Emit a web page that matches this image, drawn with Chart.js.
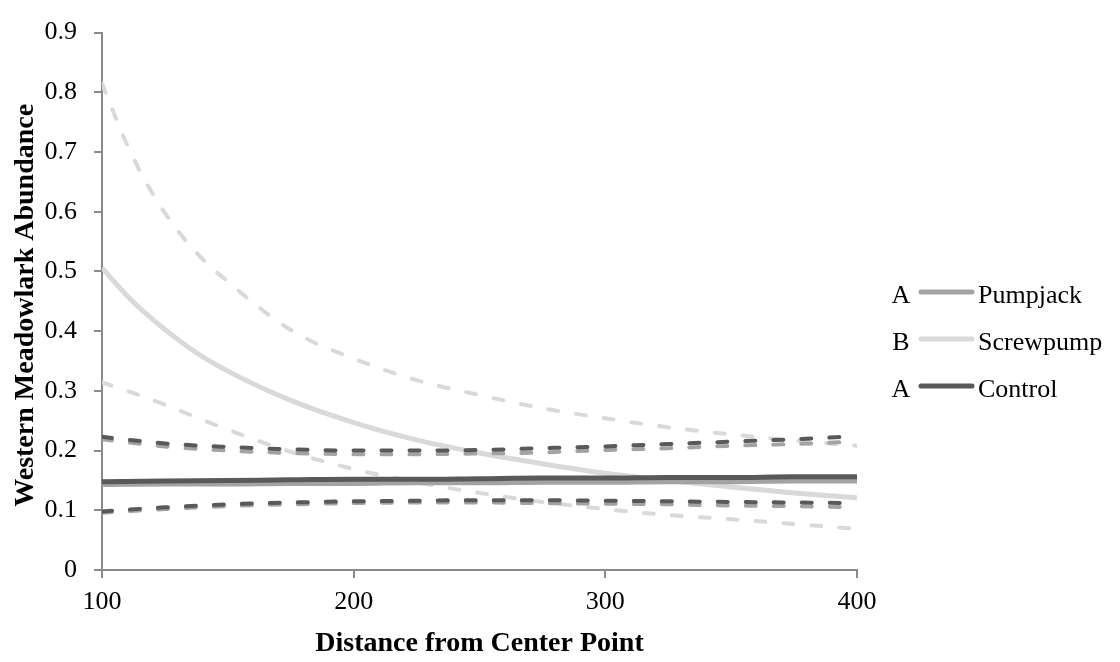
<!DOCTYPE html>
<html>
<head>
<meta charset="utf-8">
<title>Western Meadowlark Abundance</title>
<script src="https://cdn.jsdelivr.net/npm/chart.js@4.4.1/dist/chart.umd.min.js"></script>
<style>
  html, body { margin: 0; padding: 0; background: #ffffff; }
  #chart { display: block; }
</style>
</head>
<body>
<canvas id="chart" width="1120" height="662"></canvas>
<script>
// Chart data
const distances = [100, 125, 150, 175, 200, 225, 250, 275, 300, 325, 350, 375, 400];
const screwpumpDistances = [100, 110, 120, 135, 150, 175, 200, 225, 250, 275, 300, 325, 350, 375, 400];

const pumpjackFit   = [0.143, 0.144, 0.144, 0.145, 0.145, 0.146, 0.146, 0.147, 0.147, 0.148, 0.148, 0.149, 0.149];
const pumpjackUpper = [0.219, 0.207, 0.200, 0.196, 0.194, 0.194, 0.195, 0.197, 0.201, 0.204, 0.208, 0.211, 0.215];
const pumpjackLower = [0.096, 0.102, 0.107, 0.110, 0.112, 0.113, 0.113, 0.112, 0.111, 0.110, 0.108, 0.107, 0.105];

const screwpumpFit   = [0.506, 0.459, 0.420, 0.371, 0.333, 0.284, 0.247, 0.218, 0.196, 0.178, 0.162, 0.150, 0.139, 0.129, 0.121];
const screwpumpUpper = [0.815, 0.712, 0.631, 0.543, 0.483, 0.402, 0.354, 0.318, 0.293, 0.271, 0.254, 0.239, 0.227, 0.217, 0.208];
const screwpumpLower = [0.314, 0.300, 0.285, 0.260, 0.235, 0.198, 0.169, 0.147, 0.129, 0.114, 0.102, 0.092, 0.085, 0.077, 0.069];

const controlFit   = [0.148, 0.149, 0.150, 0.151, 0.152, 0.152, 0.153, 0.154, 0.154, 0.155, 0.155, 0.156, 0.156];
const controlUpper = [0.223, 0.212, 0.206, 0.202, 0.200, 0.200, 0.201, 0.204, 0.207, 0.211, 0.215, 0.219, 0.224];
const controlLower = [0.098, 0.105, 0.110, 0.113, 0.115, 0.116, 0.117, 0.117, 0.116, 0.115, 0.114, 0.113, 0.112];

const seriesNames = ['Pumpjack', 'Screwpump', 'Control'];
const groupLetters = ['A', 'B', 'A'];
const xTickLabels = ['100', '200', '300', '400'];
const yTickLabels = ['0', '0.1', '0.2', '0.3', '0.4', '0.5', '0.6', '0.7', '0.8', '0.9'];

// Styling
const colors = {
  Pumpjack: '#a3a3a3',
  Screwpump: '#d9d9d9',
  Control: '#595959'
};
const axisColor = '#8a8a8a';
const fontFamily = '"Liberation Serif", "Times New Roman", serif';

document.addEventListener('DOMContentLoaded', function() {
  initializeChart();
});

// Build one line dataset from an x array and a value array
function makeLine(label, xs, values, color, dashed, order) {
  return {
    label: label,
    data: xs.map((d, i) => ({ x: d, y: values[i] })),
    borderColor: color,
    borderWidth: dashed ? 4 : 5,
    borderDash: dashed ? [10, 18] : [],
    borderCapStyle: dashed ? 'round' : 'butt',
    pointRadius: 0,
    fill: false,
    cubicInterpolationMode: 'monotone',
    order: order
  };
}

// Legend with group letters, axis titles
const decorPlugin = {
  id: 'decor',
  afterDraw(chart) {
    const ctx = chart.ctx;
    const area = chart.chartArea;
    ctx.save();
    ctx.fillStyle = '#000000';

    // x axis title
    ctx.font = 'bold 28px ' + fontFamily;
    ctx.textAlign = 'center';
    ctx.textBaseline = 'alphabetic';
    ctx.fillText('Distance from Center Point', (area.left + area.right) / 2, 651);

    // y axis title
    ctx.save();
    ctx.translate(33, (area.top + area.bottom) / 2 + 4);
    ctx.rotate(-Math.PI / 2);
    ctx.fillText('Western Meadowlark Abundance', 0, 0);
    ctx.restore();

    // legend
    ctx.font = '26px ' + fontFamily;
    seriesNames.forEach((name, i) => {
      const base = 303 + i * 47;
      ctx.textAlign = 'center';
      ctx.fillText(groupLetters[i], 901, base);
      ctx.beginPath();
      ctx.strokeStyle = colors[name];
      ctx.lineWidth = 5;
      ctx.lineCap = 'round';
      ctx.moveTo(921, base - 11);
      ctx.lineTo(972, base - 11);
      ctx.stroke();
      ctx.textAlign = 'left';
      ctx.fillText(name, 978, base);
    });
    ctx.restore();
  }
};

function initializeChart() {
  const ctx = document.getElementById('chart').getContext('2d');

  const datasets = [
    makeLine('Control', distances, controlFit, colors.Control, false, 0),
    makeLine('Control upper', distances, controlUpper, colors.Control, true, 1),
    makeLine('Control lower', distances, controlLower, colors.Control, true, 1),
    makeLine('Pumpjack', distances, pumpjackFit, colors.Pumpjack, false, 2),
    makeLine('Pumpjack upper', distances, pumpjackUpper, colors.Pumpjack, true, 3),
    makeLine('Pumpjack lower', distances, pumpjackLower, colors.Pumpjack, true, 3),
    makeLine('Screwpump', screwpumpDistances, screwpumpFit, colors.Screwpump, false, 4),
    makeLine('Screwpump upper', screwpumpDistances, screwpumpUpper, colors.Screwpump, true, 5),
    makeLine('Screwpump lower', screwpumpDistances, screwpumpLower, colors.Screwpump, true, 5)
  ];

  new Chart(ctx, {
    type: 'line',
    data: { datasets: datasets },
    options: {
      responsive: false,
      animation: false,
      devicePixelRatio: 1,
      events: [],
      layout: {
        padding: { left: 0, top: 18, right: 263, bottom: 0 }
      },
      plugins: {
        legend: { display: false },
        tooltip: { enabled: false }
      },
      scales: {
        x: {
          type: 'linear',
          min: 100,
          max: 400,
          afterFit: scale => { scale.height = 92; },
          afterBuildTicks: scale => {
            scale.ticks = xTickLabels.map(t => ({ value: Number(t) }));
          },
          ticks: {
            color: '#000000',
            font: { family: fontFamily, size: 26 },
            padding: 9,
            maxRotation: 0,
            callback: (value, i) => xTickLabels[i]
          },
          grid: {
            drawOnChartArea: false,
            drawTicks: true,
            tickLength: 8,
            color: axisColor,
            lineWidth: 2
          },
          border: { display: true, color: axisColor, width: 2 }
        },
        y: {
          type: 'linear',
          min: 0,
          max: 0.9,
          afterFit: scale => { scale.width = 102; },
          afterBuildTicks: scale => {
            scale.ticks = yTickLabels.map(t => ({ value: Number(t) }));
          },
          ticks: {
            color: '#000000',
            font: { family: fontFamily, size: 26 },
            padding: 17,
            callback: (value, i) => yTickLabels[i]
          },
          grid: {
            drawOnChartArea: false,
            drawTicks: true,
            tickLength: 8,
            color: axisColor,
            lineWidth: 2
          },
          border: { display: true, color: axisColor, width: 2 }
        }
      }
    },
    plugins: [decorPlugin]
  });
}
</script>
</body>
</html>
